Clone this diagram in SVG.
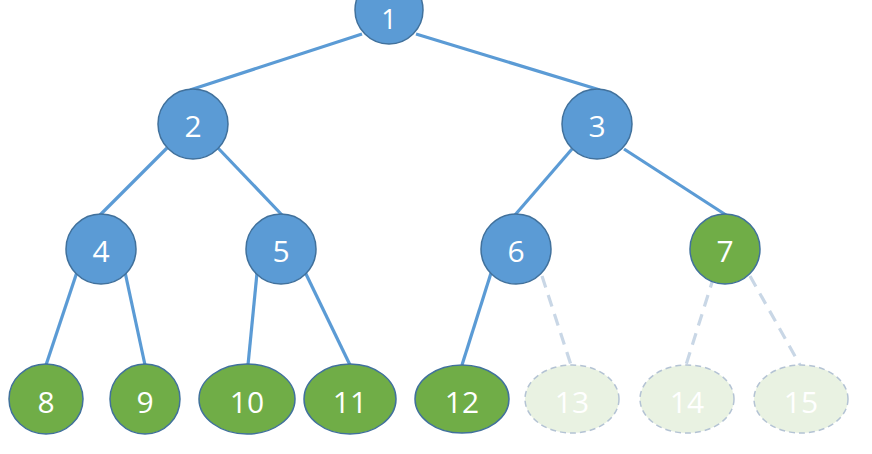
<svg xmlns="http://www.w3.org/2000/svg" width="872" height="454" viewBox="0 0 872 454">
  <style>
    .edge { stroke: #5B9BD5; stroke-width: 3.2; fill: none; }
    .ghost-edge { stroke: #C9D7E6; stroke-width: 3.2; stroke-dasharray: 12 8; fill: none; }
    .blue { fill: #5B9BD5; stroke: #41719C; stroke-width: 1.5; }
    .green { fill: #70AD47; stroke: #41719C; stroke-width: 1.5; }
    .ghost { fill: #E9F2E2; stroke: #B4C3D4; stroke-width: 1.5; stroke-dasharray: 6 4; }
    .label { font-family: "Open Sans", "Liberation Sans", sans-serif; font-size: 30px; fill: #FFFFFF; text-anchor: middle; dominant-baseline: central; }
    .root-label { font-size: 27px; }
  </style>
  <rect width="872" height="454" fill="#FFFFFF"/>

  <g id="connectors">
    <line class="edge" x1="362" y1="34" x2="190" y2="90"/>
    <line class="edge" x1="416" y1="34" x2="600" y2="90"/>
    <line class="edge" x1="167" y1="148" x2="100" y2="215"/>
    <line class="edge" x1="218" y1="148" x2="282" y2="215"/>
    <line class="edge" x1="572" y1="149" x2="515" y2="215"/>
    <line class="edge" x1="624" y1="149" x2="726" y2="215"/>
    <line class="edge" x1="77" y1="272" x2="46" y2="365"/>
    <line class="edge" x1="125" y1="272" x2="145" y2="365"/>
    <line class="edge" x1="257" y1="273" x2="248" y2="365"/>
    <line class="edge" x1="305" y1="272" x2="350" y2="365"/>
    <line class="edge" x1="491" y1="273" x2="462" y2="365"/>
    <line class="ghost-edge" x1="542" y1="276" x2="571" y2="365"/>
    <line class="ghost-edge" x1="714" y1="276" x2="686" y2="365"/>
    <line class="ghost-edge" x1="750" y1="276" x2="800" y2="365"/>
  </g>

  <g id="n1"><circle class="blue" cx="389" cy="10" r="34"/><text class="label root-label" x="389" y="18">1</text></g>
  <g id="n2"><circle class="blue" cx="193" cy="124" r="35"/><text class="label" x="193" y="125">2</text></g>
  <g id="n3"><circle class="blue" cx="597" cy="124" r="35"/><text class="label" x="597" y="125">3</text></g>
  <g id="n4"><circle class="blue" cx="101" cy="249" r="35"/><text class="label" x="101" y="250">4</text></g>
  <g id="n5"><circle class="blue" cx="281" cy="249" r="35"/><text class="label" x="281" y="250">5</text></g>
  <g id="n6"><circle class="blue" cx="516" cy="249" r="35"/><text class="label" x="516" y="250">6</text></g>
  <g id="n7"><circle class="green" cx="725" cy="249" r="35"/><text class="label" x="725" y="250">7</text></g>

  <g id="n8"><ellipse class="green" cx="46" cy="399" rx="37" ry="35"/><text class="label" x="46" y="401">8</text></g>
  <g id="n9"><ellipse class="green" cx="145" cy="399" rx="35" ry="35"/><text class="label" x="145" y="401">9</text></g>
  <g id="n10"><ellipse class="green" cx="247" cy="399" rx="48" ry="35"/><text class="label" x="247" y="401">10</text></g>
  <g id="n11"><ellipse class="green" cx="350" cy="399" rx="46" ry="35"/><text class="label" x="350" y="401">11</text></g>
  <g id="n12"><ellipse class="green" cx="462" cy="399" rx="47" ry="34"/><text class="label" x="462" y="401">12</text></g>
  <g id="n13"><ellipse class="ghost" cx="572" cy="399" rx="47" ry="34"/><text class="label" x="572" y="401">13</text></g>
  <g id="n14"><ellipse class="ghost" cx="687" cy="399" rx="47" ry="34"/><text class="label" x="687" y="401">14</text></g>
  <g id="n15"><ellipse class="ghost" cx="801" cy="399" rx="47" ry="34"/><text class="label" x="801" y="401">15</text></g>
</svg>
